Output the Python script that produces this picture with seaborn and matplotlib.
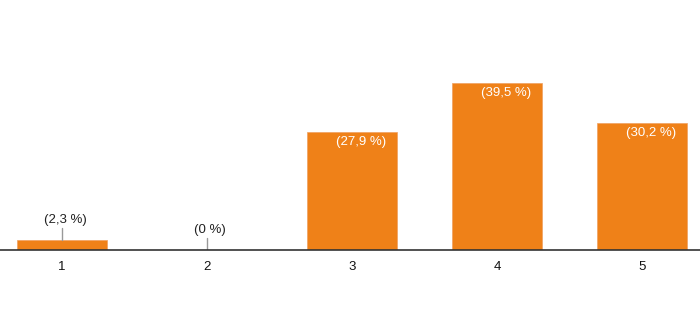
import matplotlib
matplotlib.use("Agg")
import matplotlib.pyplot as plt
import seaborn as sns
import pandas as pd

categories = ["1", "2", "3", "4", "5"]
values = [2.3, 0.0, 27.9, 39.5, 30.2]
labels = ["(2,3 %)", "(0 %)", "(27,9 %)", "(39,5 %)", "(30,2 %)"]

sns.set_theme(style="white")
plt.rcParams['font.family'] = ['Liberation Sans', 'DejaVu Sans']

df = pd.DataFrame({"cat": categories, "val": values})

fig = plt.figure(figsize=(7.0, 3.33), dpi=100)
ax = fig.add_axes([0, 83/333, 1, 211/333])
color = "#EF8118"
sns.barplot(data=df, x="cat", y="val", color=color, saturation=1, width=0.614,
            ax=ax, edgecolor="#F0A060", linewidth=0.5)

ax.set_xlim(-62/145, (700-62)/145)
ax.set_ylim(0, 50)
for s in ["top", "right", "left"]:
    ax.spines[s].set_visible(False)
ax.spines["bottom"].set_color("#333333")
ax.spines["bottom"].set_linewidth(1.2)
ax.set_yticks([])
ax.set_xlabel("")
ax.set_ylabel("")
ax.tick_params(axis="x", length=0, pad=8, labelsize=9.5, colors="#111111")

px = 50/211  # data units per pixel (y)
for i, (v, lab) in enumerate(zip(values, labels)):
    if v > 10:
        ax.text(i + 9/145, v - 10*px, lab, color="white", ha="center", va="center",
                fontsize=9.5)
    else:
        ax.plot([i, i], [v, v + 12*px], color="#999999", lw=1)
        ax.text(i + 3/145, v + 20*px, lab, color="#222222", ha="center", va="center",
                fontsize=9.5)

fig.savefig("out.png", dpi=100)
